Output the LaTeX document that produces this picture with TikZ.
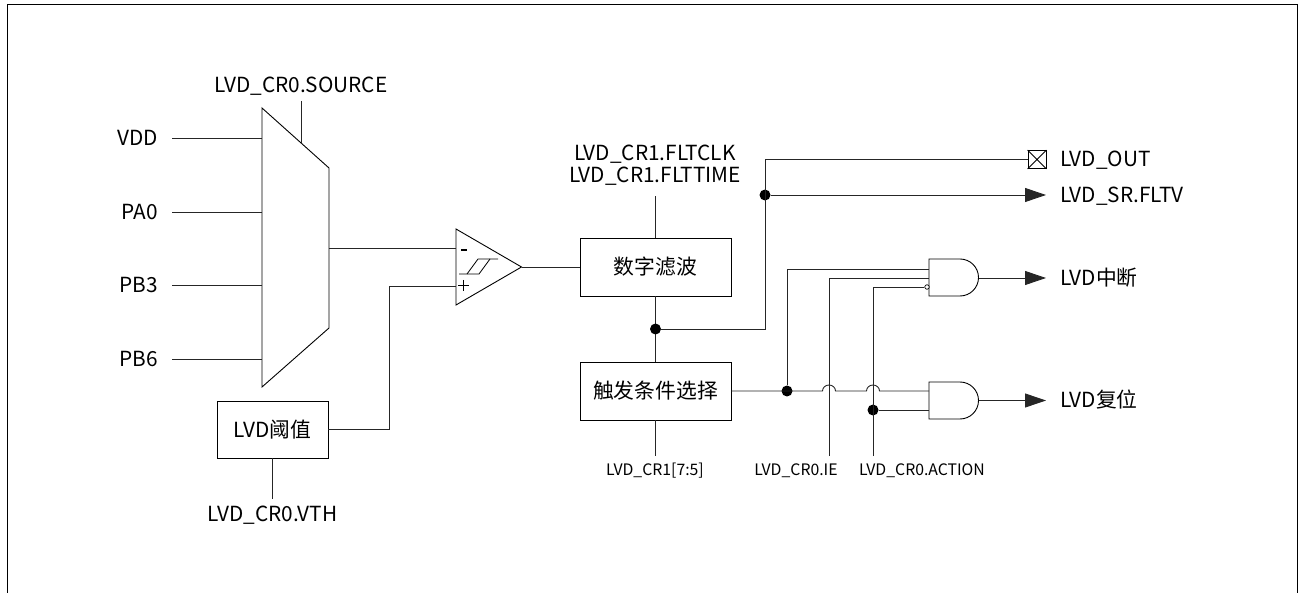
\documentclass[tikz,border=0pt]{standalone}
\usepackage{fontspec}
\setmainfont{Noto Sans CJK SC}
\usetikzlibrary{arrows.meta}

\tikzset{
  wire/.style={line width=0.9pt, black!85},
  pin/.style={wire, -{Triangle[length=21pt,width=14pt]}},
  blockbox/.style={draw, line width=0.9pt, minimum width=151pt, minimum height=58pt, inner sep=0pt},
  txt/.style={font=\fontsize{20.8}{24}\selectfont, inner sep=0pt},
  smalltxt/.style={font=\fontsize{15.8}{18}\selectfont, inner sep=0pt},
  dot/.style={circle, fill=black, inner sep=0pt, minimum size=11pt},
}

\begin{document}
\begin{tikzpicture}[x=1pt, y=-1pt]

  \useasboundingbox (0,0) rectangle (1301,593);

  % --- Cornice ---
  \draw[line width=1pt] (7,593) -- (7,4.5) -- (1297,4.5) -- (1297,593);

  % --- Multiplexer ---
  \draw[line width=0.9pt] (262,108) -- (329,168) -- (329,328) -- (262,387) -- cycle;
  \foreach \y/\name in {138/VDD, 212/PA0, 285/PB3, 359/PB6}{
    \node[txt, anchor=east] (in\name) at (158,\y) {\name};
    \coordinate (mux\name) at (262,\y);
    \draw[wire] (172,\y) -- (mux\name);
  }
  \node[txt] (source) at (301,86) {LVD\_CR0.SOURCE};
  \coordinate (muxsel) at (301,143);
  \draw[wire] (301,101) -- (muxsel);

  % --- Comparatore ---
  \draw[line width=0.9pt] (456,229) -- (521.5,267) -- (456,305) -- cycle;
  \coordinate (cmpminus) at (456,248);
  \coordinate (cmpplus) at (456,286);
  \coordinate (cmpout) at (521.5,267);
  \draw[line width=1.2pt] (461,250) -- (467,250);
  \draw[line width=1.2pt] (458,285.5) -- (468.5,285.5) (463.2,280) -- (463.2,291);
  \draw[line width=0.8pt] (459,274) -- (479,274) -- (490,259) -- (498,259);
  \draw[line width=0.8pt] (467,274) -- (478,259) -- (490,259);

  % --- Blocchi ---
  \node[blockbox] (filter) at (655.5,267) {};
  \node[txt] at (filter.center) {数字滤波};
  \node[blockbox] (trigger) at (655.5,391) {};
  \node[txt] at (trigger.center) {触发条件选择};
  \node[blockbox, minimum width=111pt, minimum height=57pt] (vth) at (272.5,429.5) {};
  \node[txt] at (vth.center) {LVD阈值};

  \node[txt] (vthlabel) at (272.5,515) {LVD\_CR0.VTH};
  \node[txt] (fltclk) at (655,154) {LVD\_CR1.FLTCLK};
  \node[txt] (flttime) at (655,176) {LVD\_CR1.FLTTIME};
  \node[smalltxt] (trigsel) at (655,471) {LVD\_CR1[7:5]};
  \node[smalltxt] (ielabel) at (796,471) {LVD\_CR0.IE};
  \node[smalltxt] (actlabel) at (922,471) {LVD\_CR0.ACTION};

  % --- Collegamenti ---
  \draw[wire] (329,248) -- (cmpminus);
  \draw[wire] (vth.east) -- (389,429.5) -- (389,286) -- (cmpplus);
  \draw[wire] (cmpout) -- (filter.west);
  \draw[wire] (vth.south) -- (272.5,499);
  \draw[wire] (filter.north) -- (655.5,196);
  \draw[wire] (filter.south) -- (trigger.north);
  \draw[wire] (trigger.south) -- (655.5,456);

  % --- Uscite del filtro ---
  \node[dot] (fdot) at (655.5,329) {};
  \node[dot] (odot) at (765,195) {};
  \node[draw, line width=0.9pt, minimum size=18pt, inner sep=0pt] (outbox) at (1037,159.5) {};
  \draw[line width=0.8pt] (outbox.north west) -- (outbox.south east)
    (outbox.north east) -- (outbox.south west);
  \node[txt, anchor=west] (lvdout) at (1060,160) {LVD\_OUT};
  \node[txt, anchor=west] (fltv) at (1060,196) {LVD\_SR.FLTV};
  \draw[wire] (fdot) -- (765,329) -- (765,159.5) -- (outbox.west);
  \draw[pin] (odot) -- (1046,195);

  % --- Porte AND ---
  \draw[line width=0.9pt] (929,259) -- (960,259) arc (90:-90:18.5 and -18.5) -- (929,296) -- cycle;
  \draw[line width=0.9pt] (929,382) -- (960,382) arc (90:-90:18.5 and -18.5) -- (929,419) -- cycle;
  \node[draw, circle, fill=white, line width=0.7pt, minimum size=4.5pt, inner sep=0pt] (notin) at (927,287) {};
  \coordinate (andA) at (929,269);
  \coordinate (andB) at (929,278);
  \coordinate (andC) at (929,391);
  \coordinate (andD) at (929,410);
  \node[txt, anchor=west] (irq) at (1060,278) {LVD中断};
  \node[txt, anchor=west] (rst) at (1060,400) {LVD复位};
  \draw[pin] (978.5,278) -- (1046,278);
  \draw[pin] (978.5,400.5) -- (1046,400.5);

  % --- Ingressi delle porte ---
  \node[dot] (tdot) at (787,391) {};
  \node[dot] (adot) at (873,410) {};
  \draw[wire] (tdot) -- (787,269) -- (andA);
  \draw[wire] (829,456) -- (829,278) -- (andB);
  \draw[wire] (873,456) -- (873,287) -- (notin.west);
  \draw[wire] (adot) -- (andD);
  \draw[wire] (trigger.east) -- (822.5,391) arc (180:0:6.5 and -6)
    -- (866.5,391) arc (180:0:6.5 and -6) -- (andC);

\end{tikzpicture}
\end{document}
